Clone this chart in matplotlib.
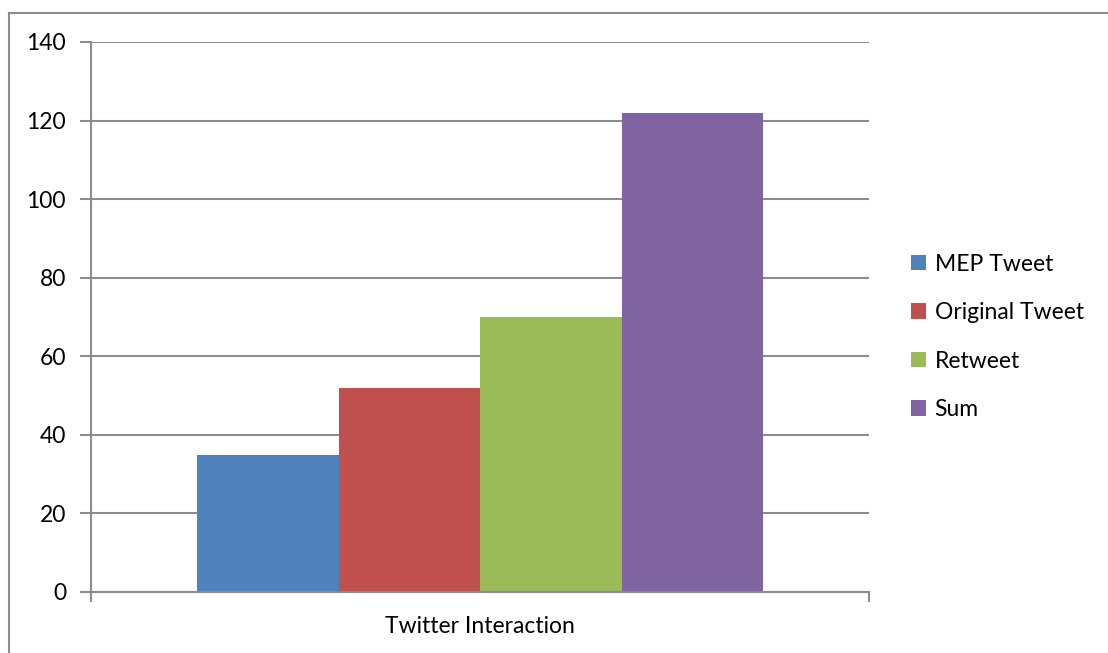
import matplotlib
matplotlib.use("Agg")
from matplotlib import pyplot as plt
from matplotlib.lines import Line2D
import numpy as np

category = "Twitter Interaction"
series = ["MEP Tweet", "Original Tweet", "Retweet", "Sum"]
values = [35, 52, 70, 122]
colors = ["#4f81bd", "#c0504d", "#9bbb59", "#8064a2"]
y_ticks = [0, 20, 40, 60, 80, 100, 120, 140]

plt.rcParams['font.family'] = ['Lato', 'DejaVu Sans']
grid_c = "#8c8c8c"
fs = 16.5

fig = plt.figure(figsize=(11.08, 6.53), dpi=100)
ax = fig.add_axes([91 / 1108, 61 / 653, 778 / 1108, 550 / 653])

w = 141.5 / 778
offsets = (np.arange(len(series)) - 1.5) * w
for off, v, c, name in zip(offsets, values, colors, series):
    ax.bar(off, v, width=w, color=c, label=name, zorder=2)

ax.set_xlim(-0.5, 0.5)
ax.set_ylim(0, 140)
ax.set_yticks(y_ticks)
ax.set_yticklabels([str(t) for t in y_ticks], fontsize=fs)
ax.set_xticks([-0.5, 0.5])
ax.set_xticklabels(["", ""])
ax.text(0.5, -0.063, category, transform=ax.transAxes, ha="center", va="center",
        fontsize=fs)

ax.yaxis.grid(True, color=grid_c, linewidth=1.5, zorder=0)
ax.set_axisbelow(True)
for s in ["top", "right"]:
    ax.spines[s].set_visible(False)
for s in ["left", "bottom"]:
    ax.spines[s].set_color(grid_c)
    ax.spines[s].set_linewidth(1.5)
ax.tick_params(axis="y", length=8, width=1.5, color=grid_c, pad=10)
ax.tick_params(axis="x", length=7, width=1.5, color=grid_c)

ax.legend(loc="center left", bbox_to_anchor=(1.027, 0.464), frameon=False,
          fontsize=fs, handlelength=0.65, handleheight=0.65,
          handletextpad=0.4, labelspacing=1.2)

# outer chart border (only top and left visible)
fig.add_artist(Line2D([8.5 / 1108, 1.0], [1 - 12.5 / 653, 1 - 12.5 / 653],
                      transform=fig.transFigure, color=grid_c, linewidth=1.5))
fig.add_artist(Line2D([8.5 / 1108, 8.5 / 1108], [0, 1 - 12.5 / 653],
                      transform=fig.transFigure, color=grid_c, linewidth=1.5))

fig.savefig("out.png", dpi=100)
